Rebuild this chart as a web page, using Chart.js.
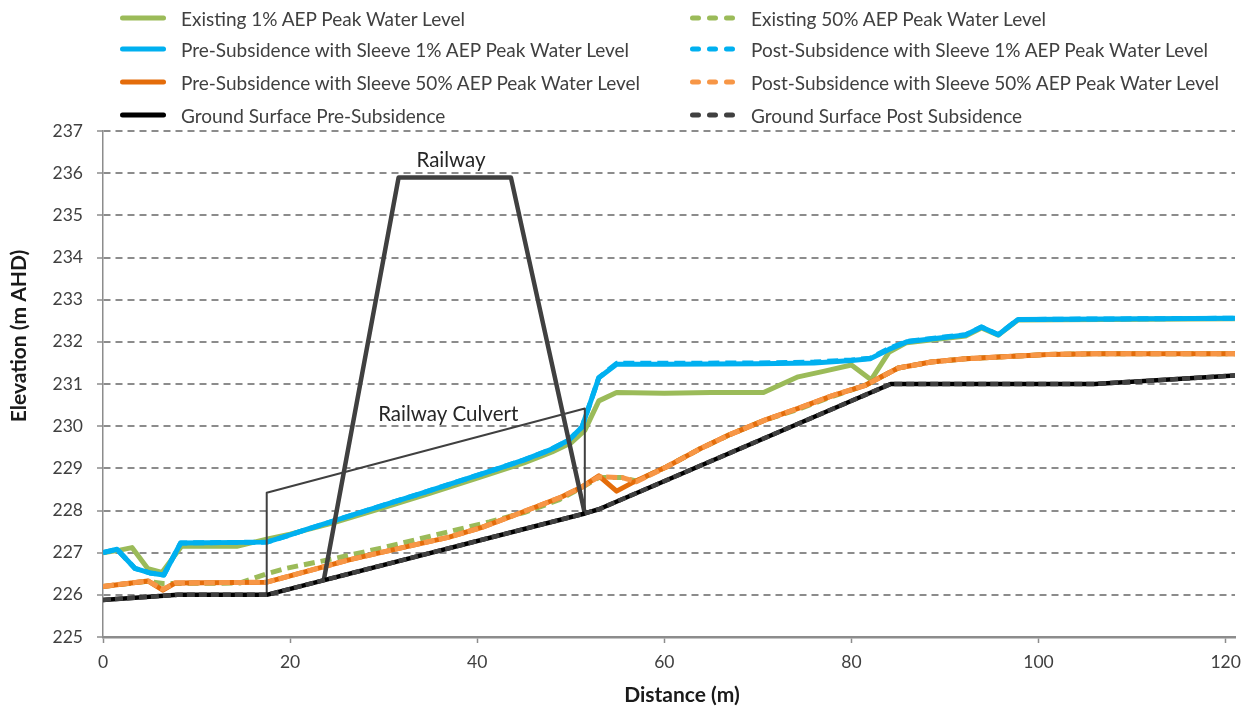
<!DOCTYPE html>
<html>
<head>
<meta charset="utf-8">
<title>Railway culvert cross-section</title>
<script src="https://cdn.jsdelivr.net/npm/chart.js@4.4.1/dist/chart.umd.min.js"></script>
<style>
  html, body { margin: 0; padding: 0; background: #ffffff; }
  #wrap { position: relative; width: 1250px; height: 710px; }
  #c { position: absolute; left: 0; top: 0; }
  #legend { position: absolute; left: 0; top: 0; width: 1250px; height: 130px;
            font-family: Lato, "Liberation Sans", sans-serif; font-size: 19px; color: #404040; }
  .item { position: absolute; display: flex; align-items: center; height: 24px; white-space: nowrap; }
  .item svg { display: block; margin-right: 15px; }
</style>
</head>
<body>
<div id="wrap">
  <canvas id="c" width="1250" height="710"></canvas>
  <div id="legend"></div>
</div>
<script>
// ---- Section data: distance along section (m) and elevation (m AHD) ----

const existing1Dist = [0, 1.8, 3.1, 4.8, 6.3, 8.4, 14.3, 17.5, 20, 24.5, 30, 35, 40, 45, 48, 50, 51.5, 53, 54.9, 60, 65, 70.6, 74.3, 77, 80, 82.1, 84, 85.9, 92.2, 93.9, 95.7, 97.8, 121];
const existing1Elev = [227.0, 227.06, 227.12, 226.62, 226.53, 227.15, 227.15, 227.32, 227.44, 227.7, 228.07, 228.41, 228.77, 229.13, 229.39, 229.6, 229.9, 230.6, 230.8, 230.78, 230.8, 230.8, 231.17, 231.3, 231.45, 231.1, 231.75, 231.98, 232.14, 232.33, 232.16, 232.52, 232.55];

const existing50Dist = [0, 4.8, 6.4, 7.7, 14.6, 17.8, 19.6, 24.5, 30, 37, 41.3, 45, 48.7, 51.2, 53, 55.5, 57, 60.2, 63.7, 67, 70.8, 74.3, 77.9, 81.5, 83.2, 85, 88.5, 92.2, 95.7, 101, 106.3, 121];
const existing50Elev = [226.2, 226.32, 226.27, 226.27, 226.28, 226.52, 226.63, 226.85, 227.12, 227.5, 227.73, 227.95, 228.25, 228.55, 228.78, 228.78, 228.7, 229.03, 229.45, 229.8, 230.15, 230.4, 230.7, 230.97, 231.17, 231.38, 231.52, 231.6, 231.64, 231.7, 231.72, 231.72];

const pre1Dist = [0, 1.5, 3.4, 5.0, 6.5, 8.3, 17.5, 20, 22, 24.5, 30, 33.5, 37, 42.3, 45, 47.7, 49.8, 51.2, 53, 54.9, 60, 70, 76, 80, 82, 84, 85.9, 92.2, 93.9, 95.7, 97.8, 121];
const pre1Elev = [227.0, 227.08, 226.63, 226.52, 226.47, 227.23, 227.25, 227.42, 227.57, 227.74, 228.13, 228.37, 228.62, 229.0, 229.2, 229.43, 229.67, 229.98, 231.15, 231.47, 231.47, 231.48, 231.5, 231.56, 231.6, 231.82, 232.0, 232.16, 232.35, 232.17, 232.53, 232.56];

const post1Dist = [0, 1.5, 3.4, 5.0, 6.5, 8.3, 17.5, 20, 22, 24.5, 30, 33.5, 37, 42.3, 45, 47.7, 49.8, 51.2, 53, 54.9, 60, 70, 76, 80, 82, 84, 85.9, 92.2, 93.9, 95.7, 97.8, 121];
const post1Elev = [227.0, 227.08, 226.63, 226.52, 226.47, 227.23, 227.25, 227.42, 227.57, 227.74, 228.13, 228.37, 228.62, 229.0, 229.2, 229.43, 229.67, 229.98, 231.15, 231.49, 231.49, 231.5, 231.52, 231.57, 231.61, 231.84, 232.01, 232.17, 232.35, 232.17, 232.53, 232.56];

const pre50Dist = [0, 4.8, 6.4, 7.7, 17.5, 20, 26.3, 30, 37, 40.5, 44.1, 49, 51.2, 53, 54.9, 56.5, 60.2, 63.7, 67, 70.8, 74.3, 77.9, 81.5, 83.2, 85, 88.5, 92.2, 95.7, 101, 106.3, 121];
const pre50Elev = [226.2, 226.33, 226.11, 226.28, 226.3, 226.45, 226.83, 227.02, 227.37, 227.6, 227.9, 228.32, 228.56, 228.82, 228.46, 228.65, 229.03, 229.45, 229.8, 230.15, 230.42, 230.72, 230.97, 231.17, 231.38, 231.52, 231.6, 231.64, 231.7, 231.72, 231.72];

const post50Dist = [0, 4.8, 6.4, 7.7, 17.5, 20, 26.3, 30, 37, 40.5, 44.1, 49, 51.2, 53, 55.5, 57, 60.2, 63.7, 67, 70.8, 74.3, 77.9, 81.5, 83.2, 85, 88.5, 92.2, 95.7, 101, 106.3, 121];
const post50Elev = [226.2, 226.33, 226.13, 226.28, 226.3, 226.45, 226.83, 227.02, 227.37, 227.6, 227.9, 228.32, 228.56, 228.8, 228.78, 228.68, 229.03, 229.45, 229.8, 230.15, 230.42, 230.72, 230.97, 231.17, 231.38, 231.52, 231.6, 231.64, 231.7, 231.72, 231.72];

const groundPreDist = [0, 8, 17.5, 51.5, 53, 84.2, 106, 121];
const groundPreElev = [225.88, 226.0, 226.0, 227.93, 228.03, 231.0, 231.0, 231.2];

const groundPostDist = [0, 8, 17.5, 51.5, 53, 84.2, 106, 121];
const groundPostElev = [225.88, 226.0, 226.0, 227.93, 228.03, 231.0, 231.0, 231.2];

// Railway embankment outline and culvert outline
const railwayDist = [23.6, 31.6, 43.6, 51.5];
const railwayElev = [226.35, 235.9, 235.9, 227.93];

const culvertDist = [17.5, 17.5, 51.5, 51.5];
const culvertElev = [226.0, 228.42, 230.42, 227.93];

// Axis ticks
const distanceTicks = [0, 20, 40, 60, 80, 100, 120];
const elevationTicks = [225, 226, 227, 228, 229, 230, 231, 232, 233, 234, 235, 236, 237];

// Annotation labels: text, distance, elevation
const railwayLabel = ['Railway', 37.2, 236.31];
const culvertLabel = ['Railway Culvert', 36.9, 230.29];

// ---- Series styling ----
const toPoints = (d, e) => d.map((x, i) => ({ x: x, y: e[i] }));

// listed in drawing order (first drawn at the bottom)
const series = [
  { label: 'Existing 1% AEP Peak Water Level', d: existing1Dist, e: existing1Elev, color: '#9BBB59', width: 5, dash: null, col: 0, row: 0 },
  { label: 'Existing 50% AEP Peak Water Level', d: existing50Dist, e: existing50Elev, color: '#9BBB59', width: 5, dash: [11, 6], col: 1, row: 0 },
  { label: 'Pre-Subsidence with Sleeve 1% AEP Peak Water Level', d: pre1Dist, e: pre1Elev, color: '#00B0F0', width: 5, dash: null, col: 0, row: 1 },
  { label: 'Post-Subsidence with Sleeve 1% AEP Peak Water Level', d: post1Dist, e: post1Elev, color: '#00B0F0', width: 5, dash: [11, 6], col: 1, row: 1 },
  { label: 'Pre-Subsidence with Sleeve 50% AEP Peak Water Level', d: pre50Dist, e: pre50Elev, color: '#E46C0A', width: 5, dash: null, col: 0, row: 2 },
  { label: 'Post-Subsidence with Sleeve 50% AEP Peak Water Level', d: post50Dist, e: post50Elev, color: '#F79646', width: 5, dash: [11, 4], col: 1, row: 2 },
  { label: 'Railway Culvert', d: culvertDist, e: culvertElev, color: '#404040', width: 2, dash: null, col: -1 },
  { label: 'Railway', d: railwayDist, e: railwayElev, color: '#404040', width: 4.5, dash: null, col: -1 },
  { label: 'Ground Surface Pre-Subsidence', d: groundPreDist, e: groundPreElev, color: '#000000', width: 4.5, dash: null, col: 0, row: 3 },
  { label: 'Ground Surface Post Subsidence', d: groundPostDist, e: groundPostElev, color: '#404040', width: 4.5, dash: [8, 4], col: 1, row: 3 }
];

const datasets = series.map((s, i) => ({
  label: s.label,
  data: toPoints(s.d, s.e),
  borderColor: s.color,
  backgroundColor: s.color,
  borderWidth: s.width,
  borderDash: s.dash || [],
  borderCapStyle: 'butt',
  borderJoinStyle: 'round',
  pointRadius: 0,
  pointHoverRadius: 0,
  tension: 0,
  fill: false,
  order: series.length - i
}));

// ---- Text drawn on the plot: section labels and axis titles ----
const sectionText = {
  id: 'sectionText',
  afterDatasetsDraw(chart) {
    const { ctx, scales: { x, y } } = chart;
    ctx.save();
    ctx.fillStyle = '#262626';
    ctx.textAlign = 'center';
    ctx.textBaseline = 'middle';
    ctx.font = '20.5px Lato, "Liberation Sans", sans-serif';
    [railwayLabel, culvertLabel].forEach(l => {
      ctx.fillText(l[0], x.getPixelForValue(l[1]), y.getPixelForValue(l[2]));
    });
    ctx.font = 'bold 21px Lato, "Liberation Sans", sans-serif';
    ctx.fillStyle = '#1a1a1a';
    ctx.fillText('Distance (m)', 682, 695);
    ctx.translate(19, 336);
    ctx.rotate(-Math.PI / 2);
    ctx.fillText('Elevation (m AHD)', 0, 0);
    ctx.restore();
  }
};

const axisGray = '#8c8c8c';

const chart = new Chart(document.getElementById('c'), {
  type: 'line',
  data: { datasets: datasets },
  options: {
    responsive: false,
    animation: false,
    devicePixelRatio: 1,
    layout: { padding: { left: 0, right: 14, top: 131, bottom: 0 } },
    plugins: {
      legend: { display: false },
      tooltip: { enabled: false },
      title: { display: false }
    },
    scales: {
      x: {
        type: 'linear',
        min: 0,
        max: 121,
        afterFit: s => { s.height = 73; },
        afterBuildTicks: s => { s.ticks = distanceTicks.map(v => ({ value: v })); },
        ticks: {
          padding: 9,
          color: '#404040',
          font: { family: 'Lato, "Liberation Sans", sans-serif', size: 17.5 },
          maxRotation: 0
        },
        grid: {
          drawOnChartArea: false,
          drawTicks: true,
          tickLength: 6,
          tickColor: axisGray,
          tickWidth: 1.5
        },
        border: { display: true, color: axisGray, width: 2.5 }
      },
      y: {
        type: 'linear',
        min: 225,
        max: 237,
        afterFit: s => { s.width = 103; },
        afterBuildTicks: s => { s.ticks = elevationTicks.map(v => ({ value: v })); },
        ticks: {
          padding: 14,
          color: '#404040',
          font: { family: 'Lato, "Liberation Sans", sans-serif', size: 17.5 }
        },
        grid: {
          color: axisGray,
          lineWidth: 2,
          drawTicks: true,
          tickLength: 6,
          tickColor: axisGray,
          tickWidth: 1.5
        },
        border: { display: true, color: axisGray, width: 1.5, dash: [7, 5] }
      }
    }
  },
  plugins: [sectionText]
});

// ---- Legend: two columns, four rows ----
const legendRowsY = [18, 49, 82, 115];
const legendColsX = [120, 690];
const legendEl = document.getElementById('legend');

function sampleSvg(s) {
  const dash = s.dash ? ' stroke-dasharray="6 11"' : '';
  return '<svg width="46" height="8" viewBox="0 0 46 8"><line x1="2.5" y1="4" x2="43.5" y2="4" stroke="' +
    s.color + '" stroke-width="5" stroke-linecap="round"' + dash + '/></svg>';
}

series.filter(s => s.col >= 0).forEach(s => {
  const div = document.createElement('div');
  div.className = 'item';
  div.style.left = legendColsX[s.col] + 'px';
  div.style.top = (legendRowsY[s.row] - 12) + 'px';
  div.innerHTML = sampleSvg(s) + '<span>' + s.label + '</span>';
  legendEl.appendChild(div);
});
</script>
</body>
</html>
